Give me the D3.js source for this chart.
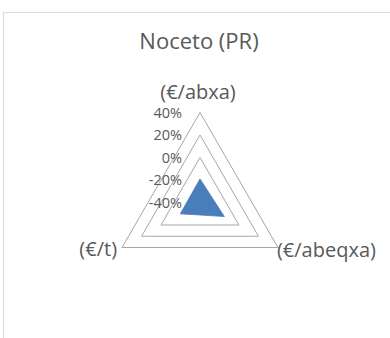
<!DOCTYPE html>
<html><head><meta charset="utf-8">
<script src="https://cdn.jsdelivr.net/npm/d3@7"></script>
<style>html,body{margin:0;padding:0;background:#fff;}svg{display:block;}</style>
</head><body>
<script>
const title = "Noceto (PR)";
const categories = ["(€/abxa)", "(€/abeqxa)", "(€/t)"];
const values = [-0.19, -0.15, -0.20];
const tickValues = [-0.4, -0.2, 0, 0.2, 0.4];

const W = 390, H = 338;
const cx = 200, cy = 202.5, R = 90;
const font = "'Open Sans', Lato, sans-serif";
const svg = d3.select("body").append("svg").attr("width", W).attr("height", H);

// chart area border
svg.append("rect").attr("x", 3.5).attr("y", 12.5).attr("width", W + 10).attr("height", H + 10)
  .attr("fill", "#fff").attr("stroke", "#d9d9d9").attr("stroke-width", 1);

svg.append("text").attr("x", 199).attr("y", 48.5).attr("text-anchor", "middle")
  .attr("font-family", font).attr("font-size", 22).attr("fill", "#595959").text(title);

const r = d3.scaleLinear().domain([-0.4, 0.4]).range([0, R]);
const angle = i => -Math.PI / 2 + i * 2 * Math.PI / categories.length;
const pt = (i, v) => [cx + r(v) * Math.cos(angle(i)), cy + r(v) * Math.sin(angle(i))];

// gridlines
const line = d3.line().curve(d3.curveLinearClosed);
tickValues.filter(t => t > -0.4).forEach(t => {
  svg.append("path").attr("d", line(categories.map((c, i) => pt(i, t))))
    .attr("fill", "none").attr("stroke", "#a6a6a6").attr("stroke-width", 1);
});

// data
svg.append("path").attr("d", line(values.map((v, i) => pt(i, v))))
  .attr("fill", "#4a7ebb").attr("stroke", "#4a7ebb").attr("stroke-width", 0.8);

// tick labels
const fmt = d => d3.format(".0%")(d).replace("\u2212", "-");
svg.append("g").selectAll("text").data(tickValues).join("text")
  .attr("x", cx - 18).attr("y", d => cy - r(d) + 5.2)
  .attr("text-anchor", "end").attr("font-family", font).attr("font-size", 14.5)
  .attr("fill", "#595959").text(fmt);

// category labels
const lab = svg.append("g").attr("font-family", font).attr("font-size", 20).attr("fill", "#595959");
categories.forEach((c, i) => {
  const [x, y] = pt(i, 0.4);
  let anchor = "middle", tx = x - 2, ty = y - 14;
  if (i === 1) { anchor = "start"; tx = x - 1; ty = y + 9; }
  if (i === 2) { anchor = "end"; tx = x - 5; ty = y + 8.5; }
  lab.append("text").attr("x", tx).attr("y", ty).attr("text-anchor", anchor).text(c);
});
</script>
</body></html>
